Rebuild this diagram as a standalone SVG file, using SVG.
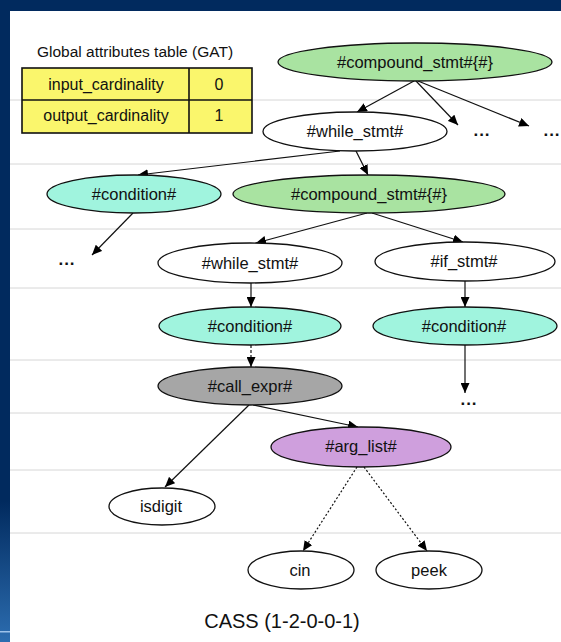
<svg xmlns="http://www.w3.org/2000/svg" width="561" height="642" viewBox="0 0 561 642">
  <defs>
    <linearGradient id="edgeFade" x1="0" y1="0" x2="0" y2="1">
      <stop offset="0" stop-color="#012a5e"/>
      <stop offset="0.78" stop-color="#012a5e"/>
      <stop offset="1" stop-color="#2c6db0"/>
    </linearGradient>
    <marker id="arrow" markerUnits="userSpaceOnUse" markerWidth="11" markerHeight="9" refX="10" refY="4.5" orient="auto">
      <path d="M0,0 L10,4.5 L0,9 z" fill="#000"/>
    </marker>
  </defs>
  <style>
    text { font-family: "Liberation Sans", Arial, sans-serif; fill: #111; }
    .lbl { font-size: 16.5px; text-anchor: middle; }
    .tbl { font-size: 16px; text-anchor: middle; }
    .dots { font-size: 17px; font-weight: bold; text-anchor: middle; letter-spacing: 1px; }
    .node ellipse { stroke: #111; stroke-width: 1.3; }
    .plain { fill: #fff; }
    .block { fill: #a9e3a1; }
    .cond { fill: #a0f4de; }
    .call { fill: #a6a6a6; }
    .args { fill: #cf9fdd; }
    .guide { stroke: #d6d6d6; stroke-width: 1; }
    .edge { stroke: #111; stroke-width: 1.2; fill: none; marker-end: url(#arrow); }
    .dashed { stroke-dasharray: 3 2; }
    .dotted { stroke-dasharray: 2 2; }
  </style>

  <!-- slide frame -->
  <rect x="0" y="0" width="561" height="642" fill="#fff"/>
  <rect x="0" y="0" width="561" height="11" fill="#012a5e"/>
  <rect x="0" y="0" width="10" height="642" fill="url(#edgeFade)"/>
  <rect x="0" y="631" width="10" height="1.5" fill="#9cc2ea"/>

  <!-- horizontal guide rules -->
  <g id="guides">
    <line class="guide" x1="10" y1="100" x2="561" y2="100"/>
    <line class="guide" x1="10" y1="164" x2="561" y2="164"/>
    <line class="guide" x1="10" y1="229" x2="561" y2="229"/>
    <line class="guide" x1="10" y1="288" x2="561" y2="288"/>
    <line class="guide" x1="10" y1="360" x2="561" y2="360"/>
    <line class="guide" x1="10" y1="413" x2="561" y2="413"/>
    <line class="guide" x1="10" y1="470" x2="561" y2="470"/>
    <line class="guide" x1="10" y1="533" x2="561" y2="533"/>
  </g>

  <!-- global attributes table -->
  <g id="gat">
    <text x="135" y="57" style="font-size:15.5px" text-anchor="middle">Global attributes table (GAT)</text>
    <rect x="22" y="68" width="230" height="65" fill="#faf66c" stroke="#111" stroke-width="1.6"/>
    <line x1="22" y1="100" x2="252" y2="100" stroke="#111" stroke-width="1.6"/>
    <line x1="189" y1="68" x2="189" y2="133" stroke="#111" stroke-width="1.6"/>
    <text class="tbl" x="106" y="90">input_cardinality</text>
    <text class="tbl" x="219" y="90">0</text>
    <text class="tbl" x="106" y="121">output_cardinality</text>
    <text class="tbl" x="219" y="121">1</text>
  </g>

  <!-- connectors -->
  <g id="edges">
    <line class="edge" x1="414" y1="81" x2="357" y2="112"/>
    <line class="edge" x1="416" y1="81" x2="458" y2="125"/>
    <line class="edge" x1="418" y1="81" x2="529" y2="126"/>
    <line class="edge" x1="340" y1="151" x2="138" y2="175"/>
    <line class="edge" x1="356" y1="151" x2="368" y2="175"/>
    <line class="edge" x1="133" y1="213" x2="92" y2="255"/>
    <line class="edge" x1="367" y1="213" x2="256" y2="243"/>
    <line class="edge" x1="372" y1="213" x2="463" y2="242"/>
    <line class="edge" x1="251" y1="283" x2="251" y2="307"/>
    <line class="edge" x1="465" y1="281" x2="465" y2="307"/>
    <line class="edge" x1="465" y1="345" x2="465" y2="393"/>
    <line class="edge dashed" x1="251" y1="345" x2="251" y2="367"/>
    <line class="edge" x1="249" y1="405" x2="165" y2="487"/>
    <line class="edge" x1="253" y1="405" x2="358" y2="427"/>
    <line class="edge dotted" x1="357" y1="467" x2="303" y2="551"/>
    <line class="edge dotted" x1="364" y1="467" x2="427" y2="551"/>
  </g>

  <!-- elided subtrees -->
  <g id="more">
    <text class="dots" x="482" y="136">...</text>
    <text class="dots" x="552" y="136">...</text>
    <text class="dots" x="67" y="265">...</text>
    <text class="dots" x="469" y="405">...</text>
  </g>

  <!-- nodes -->
  <g id="compound-top" class="node">
    <ellipse class="block" cx="415" cy="62" rx="137" ry="19"/>
    <text class="lbl" x="415" y="68">#compound_stmt#{#}</text>
  </g>
  <g id="while-outer" class="node">
    <ellipse class="plain" cx="355" cy="131.5" rx="92" ry="19.5"/>
    <text class="lbl" x="355" y="137">#while_stmt#</text>
  </g>
  <g id="condition-outer" class="node">
    <ellipse class="cond" cx="134" cy="194" rx="87" ry="19"/>
    <text class="lbl" x="134" y="200">#condition#</text>
  </g>
  <g id="compound-inner" class="node">
    <ellipse class="block" cx="369" cy="194" rx="136" ry="19"/>
    <text class="lbl" x="369" y="200">#compound_stmt#{#}</text>
  </g>
  <g id="while-inner" class="node">
    <ellipse class="plain" cx="250" cy="263" rx="92" ry="20"/>
    <text class="lbl" x="250" y="269">#while_stmt#</text>
  </g>
  <g id="if" class="node">
    <ellipse class="plain" cx="465" cy="261.5" rx="90" ry="19.5"/>
    <text class="lbl" x="464" y="267">#if_stmt#</text>
  </g>
  <g id="condition-while" class="node">
    <ellipse class="cond" cx="250" cy="326" rx="91" ry="19"/>
    <text class="lbl" x="250" y="332">#condition#</text>
  </g>
  <g id="condition-if" class="node">
    <ellipse class="cond" cx="465" cy="326" rx="92" ry="19"/>
    <text class="lbl" x="464" y="332">#condition#</text>
  </g>
  <g id="call-expr" class="node">
    <ellipse class="call" cx="250" cy="386" rx="92" ry="19"/>
    <text class="lbl" x="250" y="392">#call_expr#</text>
  </g>
  <g id="arg-list" class="node">
    <ellipse class="args" cx="361" cy="447" rx="90" ry="20"/>
    <text class="lbl" x="361" y="452">#arg_list#</text>
  </g>
  <g id="isdigit" class="node">
    <ellipse class="plain" cx="162" cy="506.5" rx="53" ry="18.5"/>
    <text class="lbl" x="161" y="512">isdigit</text>
  </g>
  <g id="cin" class="node">
    <ellipse class="plain" cx="301" cy="570" rx="53" ry="19"/>
    <text class="lbl" x="300" y="576">cin</text>
  </g>
  <g id="peek" class="node">
    <ellipse class="plain" cx="429" cy="570" rx="53" ry="19"/>
    <text class="lbl" x="429" y="576">peek</text>
  </g>

  <!-- caption -->
  <text x="282" y="628" style="font-size:20px" text-anchor="middle">CASS (1-2-0-0-1)</text>
</svg>
